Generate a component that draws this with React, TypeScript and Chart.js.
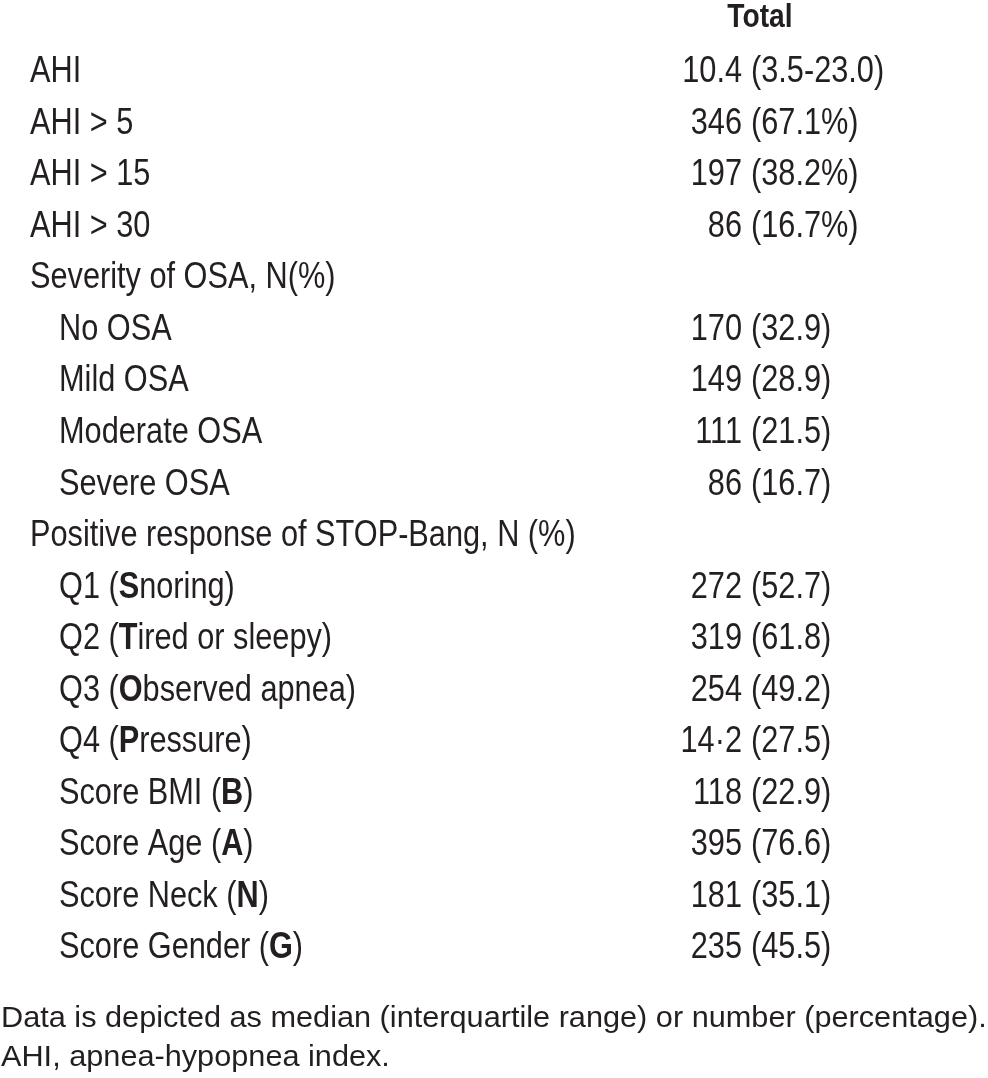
import React, { useEffect, useRef } from "react";
import { Chart, registerables } from "chart.js";

Chart.register(...registerables);

// ---------- data ----------
const columnHeader = "Total";

const rowLabels = [
  "AHI",
  "AHI > 5",
  "AHI > 15",
  "AHI > 30",
  "Severity of OSA, N(%)",
  "No OSA",
  "Mild OSA",
  "Moderate OSA",
  "Severe OSA",
  "Positive response of STOP-Bang, N (%)",
  "Q1 (Snoring)",
  "Q2 (Tired or sleepy)",
  "Q3 (Observed apnea)",
  "Q4 (Pressure)",
  "Score BMI (B)",
  "Score Age (A)",
  "Score Neck (N)",
  "Score Gender (G)",
];

// 0 = section row, 1 = indented sub row
const rowLevel = [0, 0, 0, 0, 0, 1, 1, 1, 1, 0, 1, 1, 1, 1, 1, 1, 1, 1];

// letter (first character after "(") printed in bold
const boldLetter = [
  "", "", "", "", "", "", "", "", "", "",
  "S", "T", "O", "P", "B", "A", "N", "G",
];

const totalCounts = [
  "10.4", "346", "197", "86", "",
  "170", "149", "111", "86", "",
  "272", "319", "254", "14·2", "118", "395", "181", "235",
];

const totalDetails = [
  "(3.5-23.0)", "(67.1%)", "(38.2%)", "(16.7%)", "",
  "(32.9)", "(28.9)", "(21.5)", "(16.7)", "",
  "(52.7)", "(61.8)", "(49.2)", "(27.5)", "(22.9)", "(76.6)", "(35.1)", "(45.5)",
];

const footnotes = [
  "Data is depicted as median (interquartile range) or number (percentage).",
  "AHI, apnea-hypopnea index.",
];

// ---------- drawing helpers ----------
const TEXT_COLOR = "#231f20";

function fontAvailable(ctx: CanvasRenderingContext2D, family: string) {
  const sample = "AHI Snoring 0123456789 (%)";
  ctx.font = "40px monospace";
  const a = ctx.measureText(sample).width;
  ctx.font = `40px "${family}", monospace`;
  const b = ctx.measureText(sample).width;
  ctx.font = "40px serif";
  const c = ctx.measureText(sample).width;
  ctx.font = `40px "${family}", serif`;
  const d = ctx.measureText(sample).width;
  return a !== b || c !== d;
}

function makeWriter(ctx: CanvasRenderingContext2D) {
  const narrow = fontAvailable(ctx, "Liberation Sans Narrow");
  const narrowFamily = narrow ? '"Liberation Sans Narrow"' : '"Liberation Sans", Arial, sans-serif';
  const narrowSx = narrow ? 1.015 : 0.83;
  return function write(
    text: string,
    x: number,
    y: number,
    size: number,
    bold = false,
    align: CanvasTextAlign = "left",
    condensed = true
  ) {
    const family = condensed ? narrowFamily : '"Liberation Sans", Arial, sans-serif';
    const sx = condensed ? narrowSx : 1.04;
    ctx.save();
    ctx.font = `${bold ? "bold " : ""}${size}px ${family}`;
    ctx.fillStyle = TEXT_COLOR;
    ctx.textBaseline = "alphabetic";
    ctx.textAlign = align;
    ctx.translate(x, y);
    ctx.scale(sx, 1);
    ctx.fillText(text, 0, 0);
    const w = ctx.measureText(text).width * sx;
    ctx.restore();
    return w;
  };
}

const tablePlugin = {
  id: "tableText",
  afterDraw(chart: any) {
    const ctx: CanvasRenderingContext2D = chart.ctx;
    const yScale = chart.scales.y;
    const xScale = chart.scales.x;
    const write = makeWriter(ctx);

    const bodySize = 37;
    const capHalf = 13.3;
    const labelX0 = xScale.getPixelForValue(30);
    const labelX1 = xScale.getPixelForValue(59);
    const countRight = xScale.getPixelForValue(742);
    const detailLeft = xScale.getPixelForValue(751);

    // header
    write(columnHeader, xScale.getPixelForValue(760), chart.chartArea.top - 42, 34, true, "center");

    rowLabels.forEach((label, i) => {
      const yb = yScale.getPixelForValue(i) + capHalf;
      let x = rowLevel[i] ? labelX1 : labelX0;
      const b = boldLetter[i];
      if (b) {
        const k = label.indexOf("(") + 1;
        x += write(label.slice(0, k), x, yb, bodySize);
        x += write(label.slice(k, k + 1), x, yb, bodySize, true);
        write(label.slice(k + 1), x, yb, bodySize);
      } else {
        write(label, x, yb, bodySize);
      }
      if (totalCounts[i]) write(totalCounts[i], countRight, yb, bodySize, false, "right");
      if (totalDetails[i]) write(totalDetails[i], detailLeft, yb, bodySize);
    });

    const bottom = chart.chartArea.bottom;
    write(footnotes[0], xScale.getPixelForValue(1), bottom + 82, 29.5, false, "left", false);
    write(footnotes[1], xScale.getPixelForValue(1), bottom + 121, 29.5, false, "left", false);
  },
};

export default function App() {
  const canvasRef = useRef<HTMLCanvasElement | null>(null);

  useEffect(() => {
    document.body.style.margin = "0";
    const canvas = canvasRef.current;
    if (!canvas) return;
    const chart = new Chart(canvas, {
      type: "bar",
      data: {
        labels: rowLabels,
        datasets: [],
      },
      options: {
        indexAxis: "y",
        responsive: false,
        animation: false,
        devicePixelRatio: 1,
        events: [],
        layout: { padding: { top: 69, bottom: 133, left: 0, right: 0 } },
        plugins: {
          legend: { display: false },
          tooltip: { enabled: false },
          title: { display: false },
        },
        scales: {
          y: { type: "category", display: false, offset: false },
          x: { type: "linear", display: false, min: 0, max: 988 },
        },
      },
      plugins: [tablePlugin],
    } as any);
    return () => chart.destroy();
  }, []);

  return (
    <canvas
      ref={canvasRef}
      width={988}
      height={1078}
      style={{ display: "block", width: 988, height: 1078, background: "#ffffff" }}
    />
  );
}
